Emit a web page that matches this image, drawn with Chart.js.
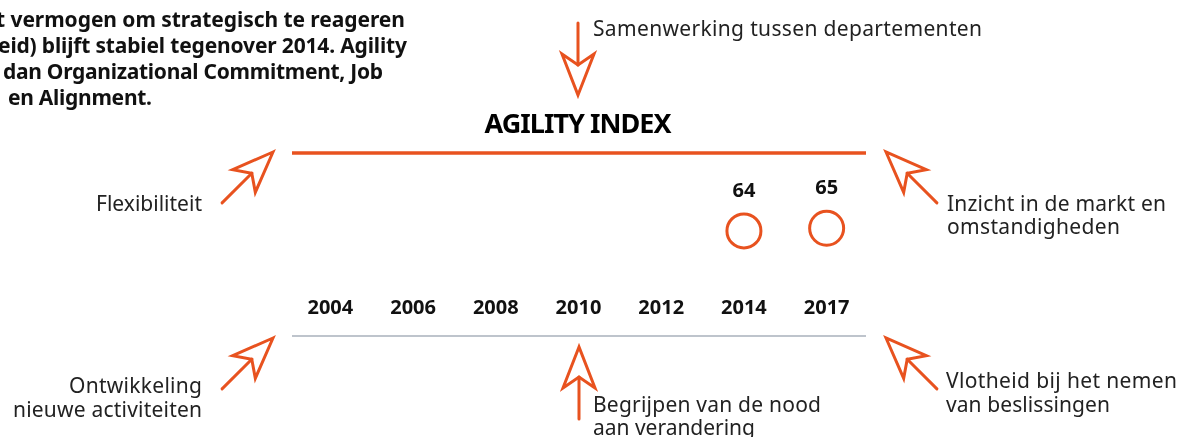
<!DOCTYPE html>
<html>
<head>
<meta charset="utf-8">
<script src="https://cdn.jsdelivr.net/npm/chart.js@4.4.1/dist/chart.umd.min.js"></script>
<style>
    body { margin: 0; background: #fff; }
    #wrap { position: relative; width: 1187px; height: 437px; overflow: hidden; }
    #chart { position: absolute; left: 0; top: 0; }
    #deco { position: absolute; left: 0; top: 0; }
    #deco text { font-family: "Noto Sans", sans-serif; fill: #222; }
    #deco .txt { font-size: 21px; }
    #deco .intro { font-size: 21px; font-weight: 700; fill: #111; }
    #deco .title { font-size: 27px; font-weight: 700; fill: #000; }
</style>
</head>
<body>
<div id="wrap">
    <canvas id="chart" width="1187" height="437"></canvas>
    <svg id="deco" width="1187" height="437" viewBox="0 0 1187 437">
        <!-- intro text, cut off on the left like the original -->
        <text class="intro" x="-4" y="27" textLength="409" lengthAdjust="spacing">t vermogen om strategisch te reageren</text>
        <text class="intro" x="-2" y="53" textLength="409" lengthAdjust="spacing">eid) blijft stabiel tegenover 2014. Agility</text>
        <text class="intro" x="3" y="79" textLength="380" lengthAdjust="spacing">dan Organizational Commitment, Job</text>
        <text class="intro" x="8" y="105" textLength="144" lengthAdjust="spacing">en Alignment.</text>

        <text class="title" x="578" y="133" text-anchor="middle" textLength="187" lengthAdjust="spacing">AGILITY INDEX</text>

        <text class="txt" x="593" y="36" textLength="389" lengthAdjust="spacing">Samenwerking tussen departementen</text>
        <text class="txt" x="202" y="211" text-anchor="end" textLength="106" lengthAdjust="spacing">Flexibiliteit</text>
        <text class="txt" x="947" y="211" textLength="219" lengthAdjust="spacing">Inzicht in de markt en</text>
        <text class="txt" x="947" y="234" textLength="173" lengthAdjust="spacing">omstandigheden</text>
        <text class="txt" x="202" y="393" text-anchor="end" textLength="133" lengthAdjust="spacing">Ontwikkeling</text>
        <text class="txt" x="202" y="417" text-anchor="end" textLength="189" lengthAdjust="spacing">nieuwe activiteiten</text>
        <text class="txt" x="593" y="412" textLength="228" lengthAdjust="spacing">Begrijpen van de nood</text>
        <text class="txt" x="593" y="435" textLength="162" lengthAdjust="spacing">aan verandering</text>
        <text class="txt" x="946" y="388" textLength="231" lengthAdjust="spacing">Vlotheid bij het nemen</text>
        <text class="txt" x="946" y="412" textLength="164" lengthAdjust="spacing">van beslissingen</text>

        <g id="arrows"></g>
    </svg>
</div>

<script>
// data
const years = ['2004', '2006', '2008', '2010', '2012', '2014', '2017'];
const agilityIndex = [null, null, null, null, null, 64, 65];

const ORANGE = '#E8521F';

// arrows: tip x, tip y, direction in degrees
const arrowList = [
    [273, 152, -45],
    [578, 95, 90],
    [886, 152, -135],
    [273, 338, -45],
    [579, 347, -90],
    [886, 338, -135]
];

const g = document.getElementById('arrows');
arrowList.forEach(a => {
    const el = document.createElementNS('http://www.w3.org/2000/svg', 'g');
    el.setAttribute('transform', `translate(${a[0]},${a[1]}) rotate(${a[2]})`);
    el.innerHTML = `
        <path d="M0,0 L-41,-16 L-30,0 L-41,16 Z" fill="none" stroke="${ORANGE}" stroke-width="3" stroke-linejoin="miter"/>
        <line x1="-30" y1="0" x2="-72" y2="0" stroke="${ORANGE}" stroke-width="3" stroke-linecap="round"/>`;
    g.appendChild(el);
});

// top orange rule, bottom grey rule and the value labels
const decoPlugin = {
    id: 'deco',
    beforeDatasetsDraw(chart) {
        const ctx = chart.ctx;
        const area = chart.chartArea;
        const x = chart.scales.x;
        ctx.save();
        ctx.strokeStyle = ORANGE;
        ctx.lineWidth = 3.5;
        ctx.beginPath();
        ctx.moveTo(area.left + 3, area.top);
        ctx.lineTo(area.right - 2, area.top);
        ctx.stroke();

        ctx.strokeStyle = '#A9B1BB';
        ctx.lineWidth = 1.5;
        ctx.beginPath();
        ctx.moveTo(area.left + 3, x.bottom);
        ctx.lineTo(area.right - 2, x.bottom);
        ctx.stroke();
        ctx.restore();
    },
    afterDatasetsDraw(chart) {
        const ctx = chart.ctx;
        const meta = chart.getDatasetMeta(0);
        ctx.save();
        ctx.font = 'bold 20px "Noto Sans"';
        ctx.fillStyle = '#111';
        ctx.textAlign = 'center';
        ctx.textBaseline = 'middle';
        meta.data.forEach((pt, i) => {
            const v = agilityIndex[i];
            if (v == null) return;
            ctx.fillText(v, pt.x, pt.y - 40);
        });
        ctx.restore();
    }
};

new Chart(document.getElementById('chart'), {
    type: 'line',
    data: {
        labels: years,
        datasets: [{
            label: 'Agility Index',
            data: agilityIndex,
            showLine: false,
            pointStyle: 'circle',
            pointRadius: 17,
            pointHoverRadius: 17,
            pointBorderWidth: 3,
            pointHoverBorderWidth: 3,
            pointBackgroundColor: 'rgba(255,255,255,0)',
            pointBorderColor: ORANGE,
            clip: false
        }]
    },
    options: {
        responsive: false,
        animation: false,
        events: [],
        layout: {
            padding: { left: 289, right: 319, top: 153, bottom: 101 }
        },
        plugins: {
            legend: { display: false },
            tooltip: { enabled: false }
        },
        scales: {
            x: {
                offset: true,
                grid: { display: false, drawTicks: false },
                border: { display: false },
                afterFit(scale) { scale.height = 46; },
                ticks: {
                    padding: 6,
                    color: '#111',
                    font: { family: 'Noto Sans', size: 20, weight: 'bold' }
                }
            },
            y: {
                display: false,
                min: 42,
                max: 93
            }
        }
    },
    plugins: [decoPlugin]
});
</script>
</body>
</html>
